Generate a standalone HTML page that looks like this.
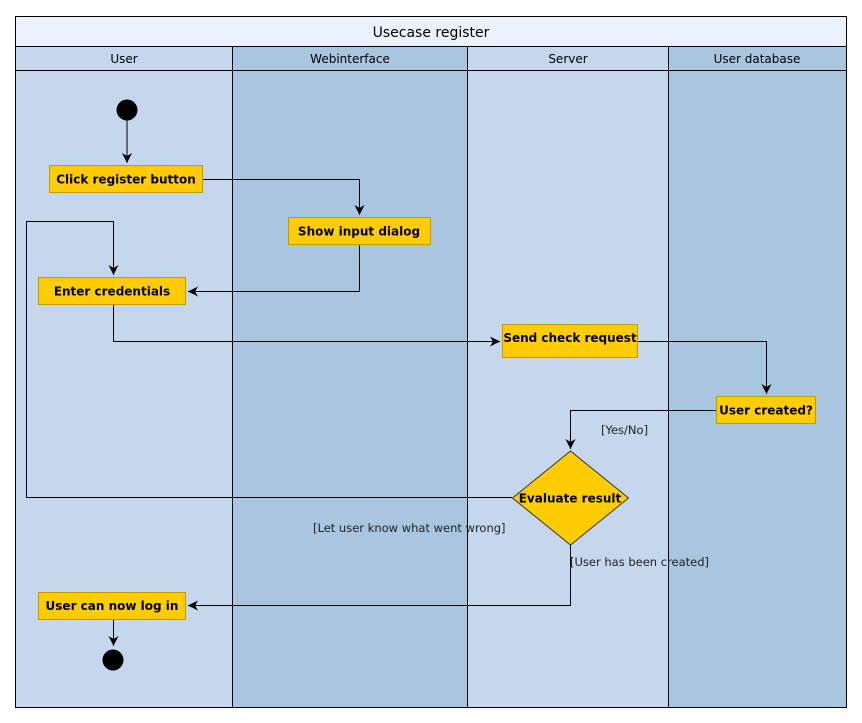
<!DOCTYPE html>
<html><head><meta charset="utf-8"><style>
html,body{margin:0;padding:0;background:#fff}
svg{display:block}
text{font-family:"DejaVu Sans","Liberation Sans",sans-serif}
.b{font-size:12px;font-weight:bold;fill:#000}
.l{font-size:11.5px;fill:#222}
</style></head><body>
<svg width="862" height="723" viewBox="0 0 862 723" xmlns="http://www.w3.org/2000/svg">
<defs><marker id="a" markerWidth="12" markerHeight="12" refX="10" refY="5" orient="auto" markerUnits="userSpaceOnUse"><path d="M0,0 L10,5 L0,10 L3,5 Z" fill="#000"/></marker></defs>
<rect x="15.5" y="16.5" width="831" height="30" fill="#eaf2fd"/>
<rect x="15.5" y="46.5" width="217" height="661" fill="#c5d7ec"/>
<rect x="232.5" y="46.5" width="235" height="661" fill="#a9c6e1"/>
<rect x="467.5" y="46.5" width="201" height="661" fill="#c5d7ec"/>
<rect x="668.5" y="46.5" width="178" height="661" fill="#a9c6e1"/>
<g stroke="#000" stroke-width="1" fill="none">
<rect x="15.5" y="16.5" width="831" height="691"/>
<line x1="15.5" y1="46.5" x2="846.5" y2="46.5"/>
<line x1="15.5" y1="70.5" x2="846.5" y2="70.5"/>
<line x1="232.5" y1="46.5" x2="232.5" y2="707.5"/>
<line x1="467.5" y1="46.5" x2="467.5" y2="707.5"/>
<line x1="668.5" y1="46.5" x2="668.5" y2="707.5"/>
</g>
<text x="431" y="37" text-anchor="middle" font-size="14">Usecase register</text>
<g font-size="12" text-anchor="middle"><text x="124" y="63">User</text><text x="350" y="63">Webinterface</text><text x="568" y="63">Server</text><text x="757" y="63">User database</text></g>
<g stroke="#000" stroke-width="1" fill="none">
<polyline points="127,120 127,163" marker-end="url(#a)"/>
<polyline points="203,179.5 359.5,179.5 359.5,215" marker-end="url(#a)"/>
<polyline points="359.5,244 359.5,291.5 188,291.5" marker-end="url(#a)"/>
<polyline points="512,497.5 26.5,497.5 26.5,221.5 113.5,221.5 113.5,275" marker-end="url(#a)"/>
<polyline points="113.5,304 113.5,341.5 500,341.5" marker-end="url(#a)"/>
<polyline points="637,341.5 766.5,341.5 766.5,394" marker-end="url(#a)"/>
<polyline points="716,410.5 570.5,410.5 570.5,449" marker-end="url(#a)"/>
<polyline points="570.5,545 570.5,605.5 188,605.5" marker-end="url(#a)"/>
<polyline points="113.5,619 113.5,646" marker-end="url(#a)"/>
</g>
<circle cx="127" cy="110" r="10.5" fill="#000"/>
<circle cx="113" cy="660" r="10.5" fill="#000"/>
<g fill="#ffcc00" stroke="#c49a00" stroke-width="1">
<rect x="49.5" y="165.5" width="153" height="27"/>
<rect x="288.5" y="217.5" width="142" height="27"/>
<rect x="38.5" y="277.5" width="147" height="27"/>
<rect x="502.5" y="324.5" width="135" height="33"/>
<rect x="716.5" y="396.5" width="99" height="27"/>
<rect x="38.5" y="592.5" width="147" height="27"/>
<polygon points="570.5,451 628.5,498 570.5,545 512.5,498" stroke="#333"/>
</g>
<g class="b" text-anchor="middle">
<text x="126" y="183.5">Click register button</text>
<text x="359" y="235.5">Show input dialog</text>
<text x="112" y="295.5">Enter credentials</text>
<text x="570" y="342">Send check request</text>
<text x="766" y="414.5">User created?</text>
<text x="570" y="502.5">Evaluate result</text>
<text x="112" y="610">User can now log in</text>
</g>
<g class="l">
<text x="601" y="434">[Yes/No]</text>
<text x="313" y="532">[Let user know what went wrong]</text>
<text x="570" y="566">[User has been created]</text>
</g>
</svg>
</body></html>
